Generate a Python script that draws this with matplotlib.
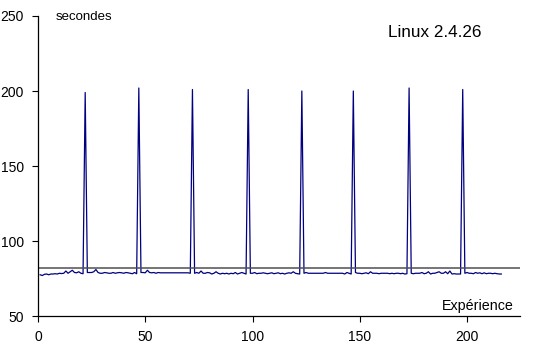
import matplotlib.pyplot as plt

plt.rcParams['font.family'] = ['Liberation Sans', 'DejaVu Sans']

# temps d'exécution (secondes) par expérience
temps = [
    77.5, 77.0, 77.8, 78.0, 77.5, 78.0, 78.0, 78.2, 78.0, 78.5,
    78.3, 78.5, 80.0, 78.5, 79.5, 80.5, 79.0, 78.8, 79.5, 78.5,
    78.2, 199.0, 79.0, 79.0, 79.0, 79.5, 81.0, 79.0, 78.5, 78.5,
    79.0, 78.8, 78.5, 78.5, 79.0, 78.5, 78.8, 79.0, 78.8, 78.5,
    79.0, 78.8, 78.5, 78.2, 79.0, 78.2, 202.0, 79.0, 79.0, 78.8,
    80.5, 79.0, 78.8, 79.0, 78.5, 79.0, 78.8, 78.8, 78.8, 78.8,
    78.8, 78.8, 78.8, 78.8, 78.8, 78.8, 78.8, 78.8, 78.8, 78.8,
    78.5, 201.0, 78.5, 79.0, 78.5, 80.0, 78.5, 78.5, 79.0, 78.8,
    78.0, 78.5, 79.5, 78.5, 78.0, 78.5, 78.2, 78.5, 78.0, 78.5,
    78.2, 79.0, 78.0, 78.5, 79.0, 78.5, 78.0, 201.0, 78.5, 78.5,
    79.0, 78.2, 78.5, 78.5, 78.8, 78.5, 78.2, 78.5, 78.8, 78.2,
    78.5, 78.8, 78.2, 78.5, 78.0, 78.5, 78.8, 78.5, 79.5, 78.5,
    78.2, 78.0, 200.0, 78.5, 79.0, 78.5, 78.5, 78.5, 78.5, 78.5,
    78.5, 78.5, 78.5, 79.0, 78.5, 78.5, 78.5, 78.5, 78.5, 78.5,
    78.5, 78.5, 78.0, 79.0, 78.5, 78.0, 200.0, 79.0, 78.5, 78.5,
    78.2, 78.5, 78.8, 78.2, 79.5, 78.5, 78.5, 78.5, 78.2, 78.5,
    78.5, 78.5, 78.5, 78.2, 78.5, 78.2, 78.5, 78.5, 78.2,
    78.5, 78.0, 78.2, 202.0, 78.5, 78.2, 78.5, 78.5, 78.5, 79.0,
    78.2, 78.5, 79.5, 78.0, 78.5, 78.5, 79.0, 79.5, 78.5, 78.5,
    79.5, 78.2, 80.0, 78.0, 78.2, 78.0, 78.0, 78.0, 201.0, 78.5,
    79.0, 78.5, 78.5, 78.2, 79.0, 78.5, 78.8, 78.2, 78.8, 78.2,
    78.5, 78.5, 78.2, 78.5, 78.2, 78.0, 78.0,
]
experiences = list(range(1, len(temps) + 1))
moyenne = 82

fig = plt.figure(figsize=(5.54, 3.47), dpi=100)
ax = fig.add_axes([0.0686, 0.0893, 0.870, 0.8646])

ax.plot(experiences, temps, color='#000080', linewidth=0.9)
ax.axhline(moyenne, color='#505050', linewidth=1.1)

ax.set_xlim(0, 224.7)
ax.set_ylim(50, 250)
ax.set_xticks([0, 50, 100, 150, 200])
ax.set_yticks([50, 100, 150, 200, 250])
ax.tick_params(labelsize=10, length=4, width=0.8, direction='out', pad=6)
for s in ['top', 'right']:
    ax.spines[s].set_visible(False)
for s in ['left', 'bottom']:
    ax.spines[s].set_linewidth(0.9)

ax.text(8, 249, 'secondes', fontsize=9.5, va='center', ha='left')
ax.text(163, 238.7, 'Linux 2.4.26', fontsize=12.3, va='center', ha='left')
ax.text(222, 57, 'Expérience', fontsize=10.3, va='center', ha='right')

plt.savefig('out.png', dpi=100)
